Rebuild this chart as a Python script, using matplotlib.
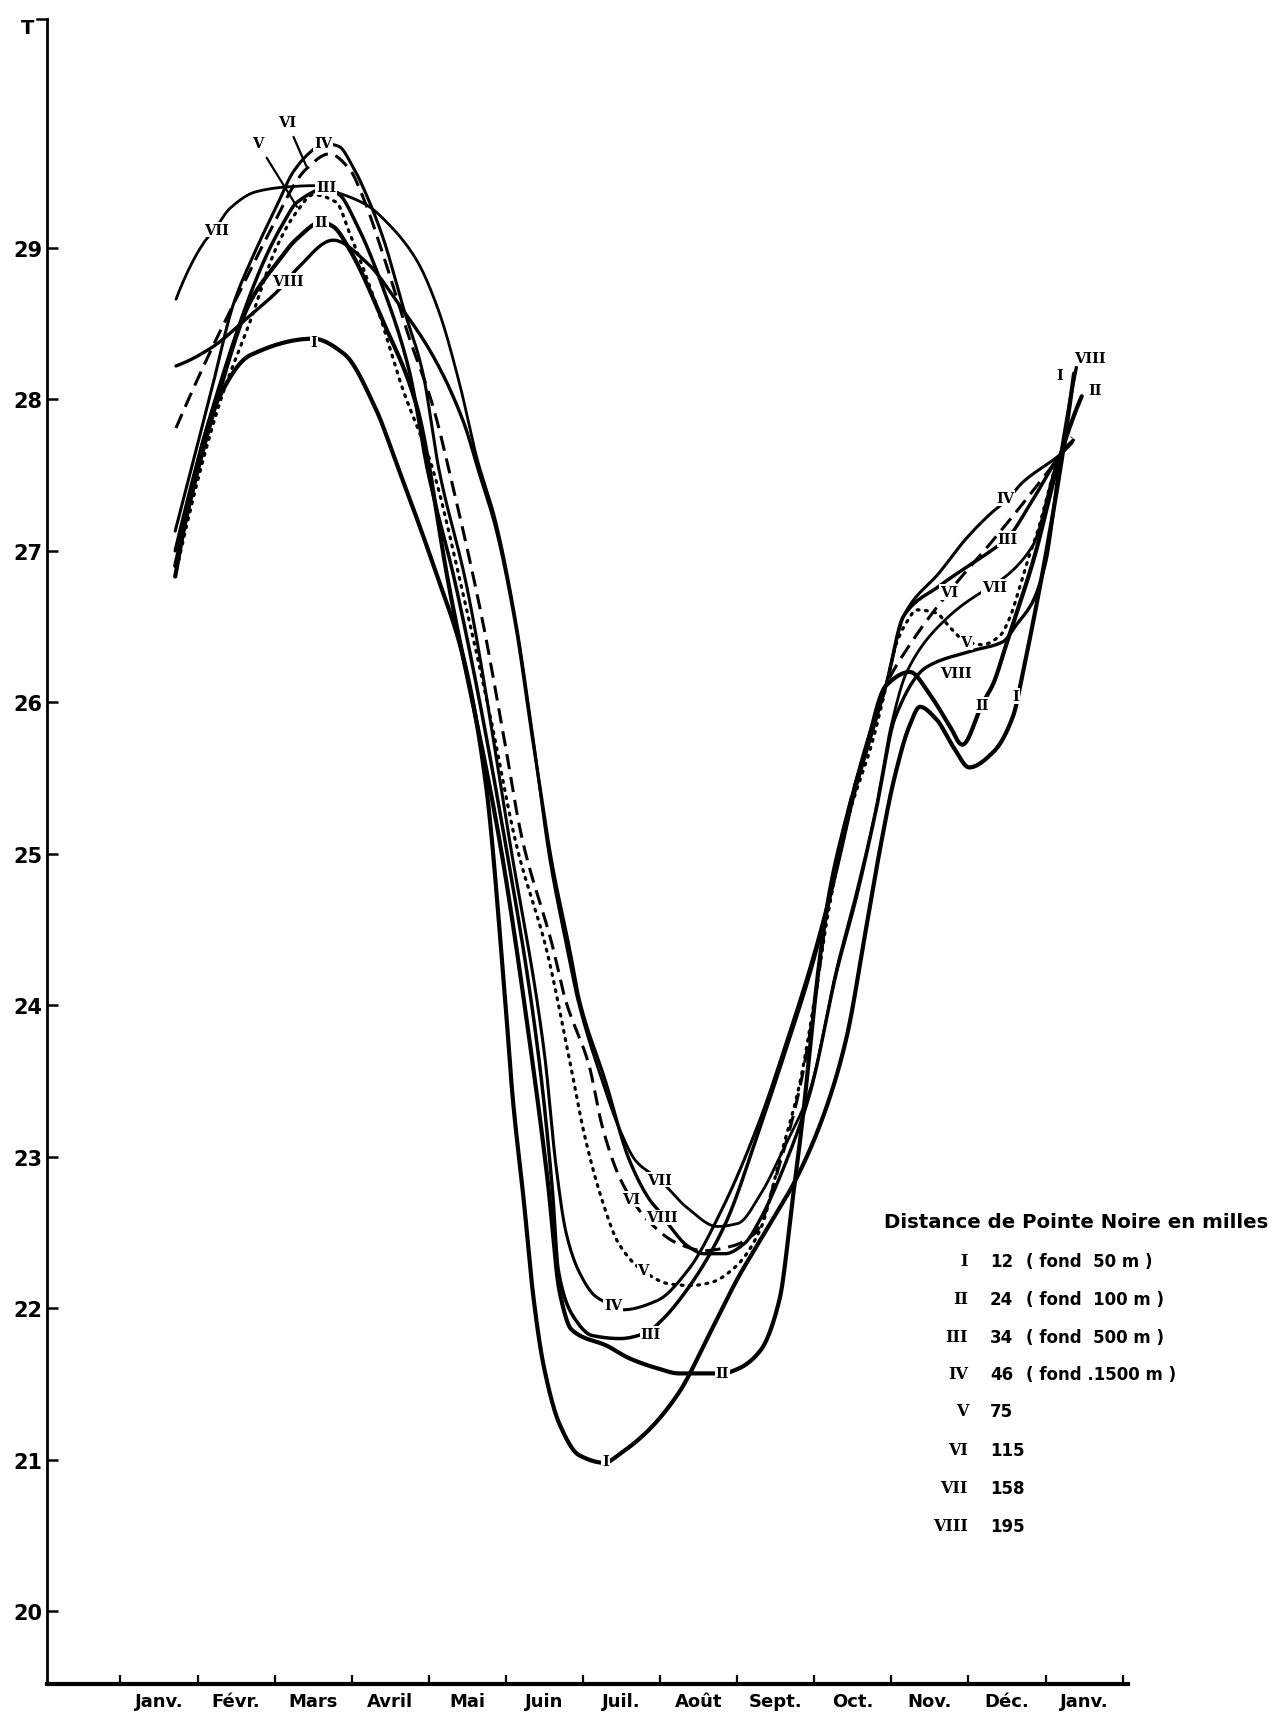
import numpy as np
import matplotlib
matplotlib.use("Agg")
import matplotlib.pyplot as plt

# ---------------- data (month position, temperature) ----------------
MONTHS = ["Janv.", "Févr.", "Mars", "Avril", "Mai", "Juin", "Juil.", "Août",
          "Sept.", "Oct.", "Nov.", "Déc.", "Janv."]
Y_TICKS = [20, 21, 22, 23, 24, 25, 26, 27, 28, 29]

X_I = [0.71, 1.25, 1.68, 2.5, 2.9, 3.3, 3.6, 4.09, 4.45, 4.74, 4.99, 5.09, 5.23, 5.36, 5.49, 5.7,
       5.95, 6.28, 6.48, 6.82, 7.24, 7.66, 8.01, 8.3, 8.81, 9.16, 9.42, 9.67, 9.86, 10.03, 10.24,
       10.37, 10.58, 10.81, 11.01, 11.32, 11.58, 11.7, 12.17, 12.37]
T_I = [26.83, 27.98, 28.29, 28.40, 28.3, 27.95, 27.55, 26.86, 26.29, 25.46, 24.04, 23.38, 22.72,
       22.06, 21.62, 21.23, 21.03, 20.98, 21.04, 21.18, 21.44, 21.85, 22.2, 22.45, 22.9, 23.33,
       23.79, 24.5, 25.05, 25.48, 25.85, 25.97, 25.89, 25.70, 25.57, 25.67, 25.91, 26.18, 27.47, 28.17]

X_II = [0.71, 1.2, 1.68, 2.03, 2.29, 2.61, 2.76, 2.97, 3.41, 3.84, 4.26, 4.93, 5.33, 5.54, 5.7, 5.85,
        6.32, 6.6, 6.99, 7.24, 7.81, 8.01, 8.3, 8.55, 8.72, 8.86, 8.97, 9.07, 9.2, 9.4, 9.65, 9.93,
        10.24, 10.5, 10.75, 10.92, 11.18, 11.32, 11.49, 11.85, 12.2, 12.47]
T_II = [26.9, 27.9, 28.64, 28.9, 29.06, 29.17, 29.14, 28.99, 28.51, 27.96, 26.77, 25.05, 23.68, 22.85,
        22.1, 21.86, 21.75, 21.67, 21.6, 21.57, 21.57, 21.6, 21.72, 22.06, 22.72, 23.3, 23.85, 24.3,
        24.75, 25.2, 25.65, 26.11, 26.20, 26.05, 25.85, 25.72, 25.99, 26.12, 26.38, 26.95, 27.64, 28.02]

X_III = [0.71, 1.2, 1.85, 2.12, 2.29, 2.67, 2.84, 3.05, 3.41, 3.75, 3.98, 4.35, 5.0, 5.42, 5.6, 5.68,
         5.87, 6.12, 6.48, 6.83, 7.0, 7.36, 7.84, 8.3, 8.64, 8.95, 9.16, 9.33, 9.5, 9.72, 9.93, 10.16,
         10.63, 11.32, 11.5, 11.85, 12.2, 12.36]
T_III = [27.0, 27.95, 28.9, 29.17, 29.3, 29.39, 29.35, 29.17, 28.73, 28.18, 27.54, 26.77, 25.05, 23.68,
         22.8, 22.25, 21.95, 21.82, 21.8, 21.84, 21.91, 22.13, 22.55, 23.2, 23.72, 24.22, 24.62, 24.98,
         25.36, 25.75, 26.11, 26.57, 26.77, 27.01, 27.08, 27.35, 27.64, 27.73]

X_IV = [0.71, 1.2, 1.46, 1.76, 2.03, 2.24, 2.46, 2.63, 2.83, 3.01, 3.19, 3.41, 3.66, 3.92, 4.13, 4.49,
        5.06, 5.5, 5.65, 5.78, 5.95, 6.16, 6.38, 6.52, 6.96, 7.36, 7.8, 8.3, 8.64, 8.95, 9.16, 9.33,
        9.5, 9.72, 9.93, 10.16, 10.63, 10.97, 11.32, 11.49, 11.7, 12.2, 12.34]
T_IV = [27.13, 28.1, 28.62, 28.99, 29.28, 29.5, 29.63, 29.69, 29.67, 29.54, 29.35, 29.06, 28.62, 28.18,
        27.54, 26.77, 25.05, 23.68, 22.94, 22.5, 22.24, 22.08, 22.02, 21.99, 22.05, 22.25, 22.65, 23.25,
        23.76, 24.26, 24.65, 25.02, 25.4, 25.8, 26.11, 26.57, 26.86, 27.08, 27.26, 27.33, 27.45, 27.64,
        27.71]

X_V = [0.71, 1.29, 1.68, 2.03, 2.29, 2.5, 2.8, 2.97, 3.32, 3.66, 4.05, 4.42, 4.8, 5.14, 5.53, 5.81,
       6.03, 6.25, 6.46, 6.77, 7.13, 7.4, 7.66, 7.97, 8.3, 8.55, 8.81, 9.03, 9.16, 9.42, 9.76, 9.93,
       10.06, 10.2, 10.33, 10.58, 10.75, 10.97, 11.18, 11.41, 11.53, 11.66, 11.79, 11.88, 12.2, 12.33]
T_V = [26.83, 27.98, 28.51, 29.01, 29.24, 29.35, 29.3, 29.1, 28.62, 28.07, 27.54, 26.77, 25.9, 25.05,
       24.36, 23.68, 23.12, 22.71, 22.43, 22.25, 22.16, 22.15, 22.17, 22.27, 22.52, 22.98, 23.48, 24.12,
       24.55, 25.2, 25.75, 26.1, 26.38, 26.53, 26.61, 26.59, 26.5, 26.40, 26.38, 26.44, 26.55, 26.75,
       26.97, 27.1, 27.64, 27.72]

X_VI = [0.72, 1.18, 1.46, 1.89, 2.41, 2.71, 2.97, 3.15, 3.41, 3.75, 4.05, 4.3, 4.7, 4.96, 5.21, 5.6,
        5.77, 6.08, 6.25, 6.46, 6.63, 6.86, 7.22, 7.57, 7.93, 8.24, 8.55, 8.81, 9.03, 9.16, 9.42, 9.7,
        9.93, 10.24, 10.75, 11.32, 11.75, 12.2, 12.34]
T_VI = [27.81, 28.33, 28.62, 29.06, 29.52, 29.62, 29.52, 29.33, 28.95, 28.4, 27.96, 27.45, 26.53, 25.81,
        25.1, 24.4, 24.04, 23.6, 23.2, 22.88, 22.72, 22.57, 22.43, 22.38, 22.41, 22.5, 22.95, 23.45,
        24.1, 24.6, 25.25, 25.75, 26.11, 26.38, 26.73, 27.07, 27.34, 27.64, 27.75]

X_VII = [0.72, 1.09, 1.22, 1.42, 1.76, 2.12, 2.5, 2.84, 3.2, 3.49, 3.84, 4.13, 4.4, 4.62, 4.87, 5.13,
         5.34, 5.57, 5.8, 5.93, 6.25, 6.46, 6.69, 6.99, 7.36, 7.74, 8.01, 8.3, 8.6, 8.95, 9.29, 9.55,
         9.8, 10.0, 10.2, 10.71, 11.18, 11.32, 11.83, 12.2, 12.35]
T_VII = [28.66, 29.04, 29.12, 29.26, 29.37, 29.40, 29.41, 29.36, 29.28, 29.15, 28.92, 28.58, 28.1, 27.62,
         27.19, 26.53, 25.81, 24.96, 24.36, 24.04, 23.5, 23.2, 22.97, 22.85, 22.66, 22.54, 22.56, 22.75,
         23.05, 23.45, 24.24, 24.75, 25.3, 25.85, 26.2, 26.55, 26.73, 26.77, 27.03, 27.64, 27.72]

X_VIII = [0.72, 1.18, 1.63, 2.07, 2.29, 2.76, 3.2, 3.62, 4.05, 4.45, 4.65, 4.87, 5.13, 5.34, 5.6, 5.83,
          5.95, 6.29, 6.6, 6.86, 7.02, 7.13, 7.36, 7.57, 7.84, 8.1, 8.28, 8.66, 8.95, 9.29, 9.55, 9.8,
          10.05, 10.45, 11.05, 11.45, 11.62, 11.83, 12.0, 12.2, 12.4]
T_VIII = [28.22, 28.34, 28.53, 28.73, 28.86, 29.05, 28.9, 28.62, 28.29, 27.85, 27.52, 27.15, 26.5, 25.78,
          24.93, 24.36, 24.04, 23.5, 22.98, 22.72, 22.62, 22.54, 22.41, 22.36, 22.36, 22.43, 22.57, 23.0,
          23.43, 24.22, 24.72, 25.28, 25.9, 26.23, 26.34, 26.40, 26.51, 26.66, 26.92, 27.64, 28.21]

LEGEND_ROMAN = ["I", "II", "III", "IV", "V", "VI", "VII", "VIII"]
LEGEND_MILES = ["12", "24", "34", "46", "75", "115", "158", "195"]
LEGEND_DEPTH = ["( fond  50 m )", "( fond  100 m )", "( fond  500 m )", "( fond .1500 m )", "", "", "", ""]

# ---------------- helpers ----------------
def pchip(x, y, xs):
    x = np.asarray(x, float)
    y = np.asarray(y, float)
    h = np.diff(x)
    d = np.diff(y) / h
    n = len(x)
    m = np.zeros(n)
    for k in range(1, n - 1):
        if d[k - 1] * d[k] > 0:
            w1 = 2 * h[k] + h[k - 1]
            w2 = h[k] + 2 * h[k - 1]
            m[k] = (w1 + w2) / (w1 / d[k - 1] + w2 / d[k])
    def end(h0, h1, d0, d1):
        mm = ((2 * h0 + h1) * d0 - h0 * d1) / (h0 + h1)
        if np.sign(mm) != np.sign(d0):
            mm = 0.0
        elif np.sign(d0) != np.sign(d1) and abs(mm) > abs(3 * d0):
            mm = 3 * d0
        return mm
    m[0] = end(h[0], h[1], d[0], d[1])
    m[-1] = end(h[-1], h[-2], d[-1], d[-2])
    idx = np.clip(np.searchsorted(x, xs) - 1, 0, n - 2)
    t = (xs - x[idx]) / h[idx]
    h00 = 2 * t**3 - 3 * t**2 + 1
    h10 = t**3 - 2 * t**2 + t
    h01 = -2 * t**3 + 3 * t**2
    h11 = t**3 - t**2
    return h00 * y[idx] + h10 * h[idx] * m[idx] + h01 * y[idx + 1] + h11 * h[idx] * m[idx + 1]

W, H = 1283, 1715
fig = plt.figure(figsize=(W / 100, H / 100), dpi=100)
ax = fig.add_axes([47 / W, 1 - 1685 / H, (1128 - 47) / W, (1685 - 20) / H])
ax.set_xlim(-0.953, 13.07)
ax.set_ylim(19.52, 30.51)

series = [
    ("I", X_I, T_I, dict(ls="-", lw=3.0)),
    ("II", X_II, T_II, dict(ls="-", lw=3.0)),
    ("III", X_III, T_III, dict(ls="-", lw=2.5)),
    ("IV", X_IV, T_IV, dict(ls="-", lw=2.2)),
    ("V", X_V, T_V, dict(ls=(0, (0.6, 2.0)), lw=2.3, dash_capstyle="round")),
    ("VI", X_VI, T_VI, dict(ls=(0, (5, 2.6)), lw=2.2)),
    ("VII", X_VII, T_VII, dict(ls="-", lw=2.0)),
    ("VIII", X_VIII, T_VIII, dict(ls="-", lw=2.4)),
]
for name, xv, tv, st in series:
    xs = np.linspace(xv[0], xv[-1], 1500)
    ax.plot(xs, pchip(xv, tv, xs), color="black", solid_capstyle="round", zorder=2, **st)

# curve labels
lab_font = dict(family="DejaVu Serif", fontweight="bold", fontsize=10.5, ha="center", va="center",
                zorder=6, bbox=dict(facecolor="white", edgecolor="none", pad=0.6))
LABEL_POS = [
    ("I", 2.51, 28.38), ("I", 6.29, 20.99), ("I", 11.62, 26.04), ("I", 12.19, 28.16),
    ("II", 2.6, 29.17), ("II", 7.81, 21.57), ("II", 11.18, 25.98), ("II", 12.64, 28.06),
    ("III", 2.67, 29.40), ("III", 6.88, 21.83), ("III", 11.51, 27.08),
    ("IV", 2.63, 29.69), ("IV", 6.39, 22.02), ("IV", 11.48, 27.35),
    ("V", 6.78, 22.25), ("V", 10.97, 26.40),
    ("VI", 6.63, 22.72), ("VI", 10.75, 26.73),
    ("VII", 1.25, 29.12), ("VII", 6.99, 22.85), ("VII", 11.34, 26.76),
    ("VIII", 2.17, 28.78), ("VIII", 7.03, 22.60), ("VIII", 10.84, 26.19), ("VIII", 12.57, 28.27),
]
for txt, lx, ly in LABEL_POS:
    ax.text(lx, ly, txt, **lab_font)
for txt, tx, ty, px, py in [("V", 1.78, 29.69, 2.29, 29.27), ("VI", 2.16, 29.83, 2.41, 29.54)]:
    ax.annotate(txt, xy=(px, py), xytext=(tx, ty), family="DejaVu Serif", fontweight="bold",
                fontsize=10.5, ha="center", va="center", zorder=6,
                arrowprops=dict(arrowstyle="-", lw=1.6, color="black", shrinkA=4, shrinkB=0))

# axes styling
for s in ["top", "right"]:
    ax.spines[s].set_visible(False)
ax.spines["left"].set_linewidth(2.0)
ax.spines["bottom"].set_linewidth(3.0)
ax.set_xticks(range(14))
ax.set_xticklabels([])
ax.tick_params(axis="x", which="major", direction="in", length=6.5, width=1.6)
ax.set_xticks(np.arange(13) + 0.5, labels=MONTHS, minor=True, fontweight="bold", fontsize=13)
ax.tick_params(axis="x", which="minor", length=0, pad=6)
ax.set_yticks(Y_TICKS, labels=[str(v) for v in Y_TICKS], fontweight="bold", fontsize=15)
ax.tick_params(axis="y", which="major", direction="in", length=8, width=1.8, pad=3)
ax.plot([-0.009, 0], [1, 1], transform=ax.transAxes, color="black", lw=1.8, clip_on=False)
ax.text(-0.018, 0.995, "T", transform=ax.transAxes, ha="center", va="center",
        fontweight="bold", fontsize=14)

# legend block
fig.text(884 / W, 1 - 1223 / H, "Distance de Pointe Noire en milles", ha="left", va="center",
         fontweight="bold", fontsize=14.2)
row_y = [1262, 1300, 1338, 1375, 1412, 1451, 1489, 1527]
for r, mi, dp, yy in zip(LEGEND_ROMAN, LEGEND_MILES, LEGEND_DEPTH, row_y):
    fig.text(968 / W, 1 - yy / H, r, ha="right", va="center", family="DejaVu Serif",
             fontweight="bold", fontsize=11.5)
    fig.text(990 / W, 1 - yy / H, mi, ha="left", va="center", fontweight="bold", fontsize=12)
    if dp:
        fig.text(1026 / W, 1 - yy / H, dp, ha="left", va="center", fontweight="bold", fontsize=12)

fig.savefig("out.png", dpi=100, facecolor="white")
